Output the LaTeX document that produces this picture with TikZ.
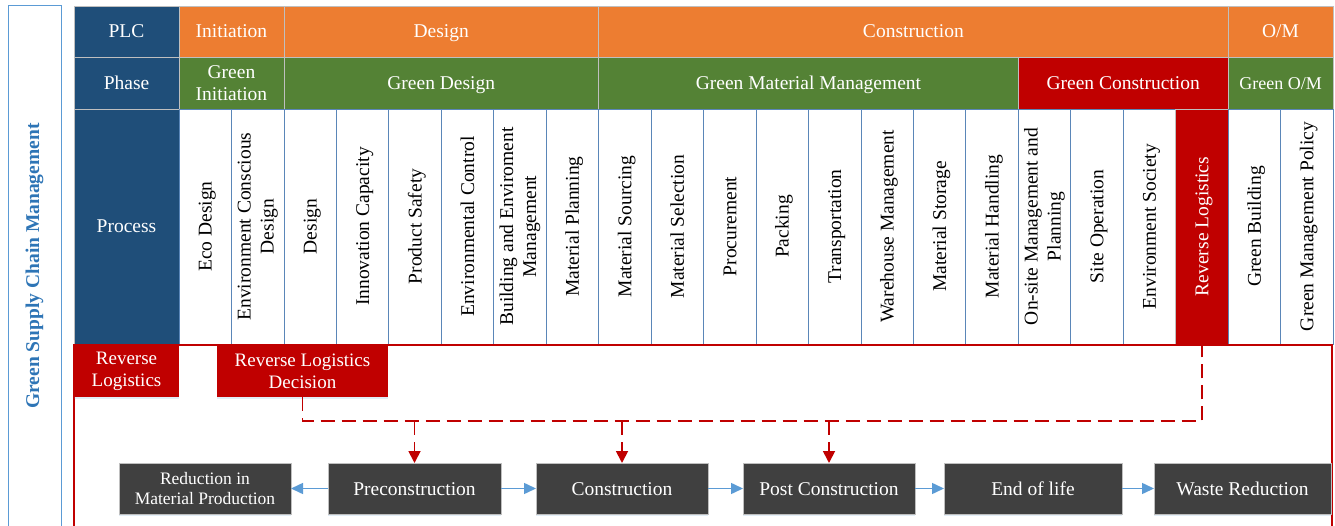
\documentclass[tikz,border=0pt]{standalone}
\usepackage{fontspec}
\setmainfont{Liberation Serif}
\usetikzlibrary{arrows.meta,shadows}
\definecolor{dblue}{HTML}{1F4E79}
\definecolor{orng}{HTML}{ED7D31}
\definecolor{grn}{HTML}{548235}
\definecolor{rd}{HTML}{C00000}
\definecolor{dgrey}{HTML}{404040}
\definecolor{lgrey}{HTML}{BFBFBF}
\definecolor{cblue}{HTML}{5A86B8}
\definecolor{tblue}{HTML}{2E75B6}
\definecolor{abl}{HTML}{5B9BD5}
\tikzset{
  oneline/.style={text height=16.5pt, text depth=3.5pt},
  multiline/.style={text height={}, text depth={}},
  hdr/.style={draw=lgrey, line width=0.8pt, text=white, inner sep=0pt, outer sep=0pt,
    align=center, font=\fontsize{19.5}{22}\selectfont, oneline},
  plc/.style={hdr, fill=orng, minimum height=51pt},
  phs/.style={hdr, fill=grn, minimum height=52pt},
  proc/.style={draw=cblue, line width=0.8pt, fill=white, rotate=90, minimum width=235pt,
    minimum height=52.4545pt, inner sep=0pt, outer sep=0pt, align=center,
    font=\fontsize{19.5}{23}\selectfont, oneline},
  procm/.style={proc, multiline},
  procred/.style={proc, fill=rd, text=white, draw=lgrey},
  rlbox/.style={fill=rd, text=white, inner sep=0pt, outer sep=0pt, align=center,
    minimum height=52pt, font=\fontsize{19}{22}\selectfont,
    drop shadow={shadow xshift=0pt, shadow yshift=-2pt, opacity=0.18, fill=abl}},
  bbox/.style={fill=dgrey, draw=lgrey, line width=0.8pt, text=white, inner sep=0pt,
    outer sep=0pt, align=center, minimum height=51pt, font=\fontsize{19.5}{22}\selectfont,
    oneline,
    drop shadow={shadow xshift=0pt, shadow yshift=-2pt, opacity=0.18, fill=abl}},
  frame/.style={draw=rd, line width=2pt},
  reddash/.style={draw=rd, line width=1.8pt, dash pattern=on 14pt off 7pt},
  redarrow/.style={reddash, -{Triangle[width=12pt,length=12pt]}},
  barrow/.style={draw=abl, line width=1.5pt, -{Triangle[width=11pt,length=12pt]}},
}
\begin{document}
\begin{tikzpicture}[x=1pt,y=-1pt]
\useasboundingbox (0,0) rectangle (1335,526);
% left title box
\node[draw=abl, line width=1pt, fill=white, rotate=90, minimum width=520pt,
  minimum height=53pt, inner sep=0pt, text=tblue,
  font=\bfseries\fontsize{19.5}{22}\selectfont] (gscm) at (34.5,266)
  {Green Supply Chain Management};
% PLC row
\node[plc, fill=dblue, minimum width=105pt] (plc) at (126.5,31.5) {PLC};
\node[plc, minimum width=104.909pt] (ini) at (231.45,31.5) {Initiation};
\node[plc, minimum width=314.727pt] (des) at (441.27,31.5) {Design};
\node[plc, minimum width=629.455pt] (con) at (913.36,31.5) {Construction};
\node[plc, minimum width=104.91pt] (om) at (1280.55,31.5) {O/M};
% Phase row
\node[phs, fill=dblue, minimum width=105pt] (phase) at (126.5,83) {Phase};
\node[phs, multiline, minimum width=104.909pt] (gi) at (231.45,83) {Green\\Initiation};
\node[phs, minimum width=314.727pt] (gd) at (441.27,83) {Green Design};
\node[phs, minimum width=419.64pt] (gmm) at (808.45,83) {Green Material Management};
\node[phs, fill=rd, minimum width=209.82pt] (gc) at (1123.18,83) {Green Construction};
\node[phs, minimum width=104.91pt, font=\fontsize{18}{22}\selectfont] (gom) at (1280.55,83) {Green O/M};
% Process row
\node[hdr, fill=dblue, minimum width=105pt, minimum height=235pt] (process) at (126.5,226.5) {Process};
\foreach \t [count=\i] in {Eco Design, {Environment Conscious\\Design}, Design,
  Innovation Capacity, Product Safety, Environmental Control,
  {Building and Enviroment\\Management}, Material Planning, Material Sourcing,
  Material Selection, Procurement, Packing, Transportation, Warehouse Management,
  Material Storage, Material Handling, {On-site Management and\\Planning},
  Site Operation, Environment Society, Reverse Logistics, Green Building,
  Green Management Policy}{
  \def\st{proc}
  \ifnum\i=2 \def\st{procm}\fi
  \ifnum\i=7 \def\st{procm}\fi
  \ifnum\i=17 \def\st{procm}\fi
  \ifnum\i=20 \def\st{procred}\fi
  \node[\st] (p\i) at ({179+(\i-0.5)*52.4545},226.5) {\t};
}
% red frame
\draw[frame] (74,530) -- (74,345) -- (1332,345) -- (1332,530);
% reverse logistics boxes
\node[rlbox, minimum width=105pt] (rl) at (126.5,371) {Reverse\\Logistics};
\node[rlbox, minimum width=171pt] (rld) at (302.5,371) {Reverse Logistics\\Decision};
% bottom process boxes
\node[bbox, multiline, minimum width=172pt, font=\fontsize{17.5}{20}\selectfont] (red) at (205,488.5) {Reduction in\\Material Production};
\node[bbox, minimum width=173pt] (pre) at (414.5,488.5) {Preconstruction};
\node[bbox, minimum width=172pt] (cons) at (622,488.5) {Construction};
\node[bbox, minimum width=172pt] (post) at (829,488.5) {Post Construction};
\node[bbox, minimum width=178pt] (eol) at (1033,488.5) {End of life};
\node[bbox, minimum width=177pt] (wr) at (1242.5,488.5) {Waste Reduction};
% dashed reverse logistics line
\coordinate (dy) at (0,421);
\draw[reddash] (rld.south) |- (dy -| p20.west) -- (p20.west);
\draw[redarrow] (dy -| pre.north) -- (pre.north);
\draw[redarrow] (dy -| cons.north) -- (cons.north);
\draw[redarrow] (dy -| post.north) -- (post.north);
% blue arrows
\draw[barrow] (pre.west) -- (red.east);
\draw[barrow] (pre.east) -- (cons.west);
\draw[barrow] (cons.east) -- (post.west);
\draw[barrow] (post.east) -- (eol.west);
\draw[barrow] (eol.east) -- (wr.west);
\end{tikzpicture}
\end{document}
